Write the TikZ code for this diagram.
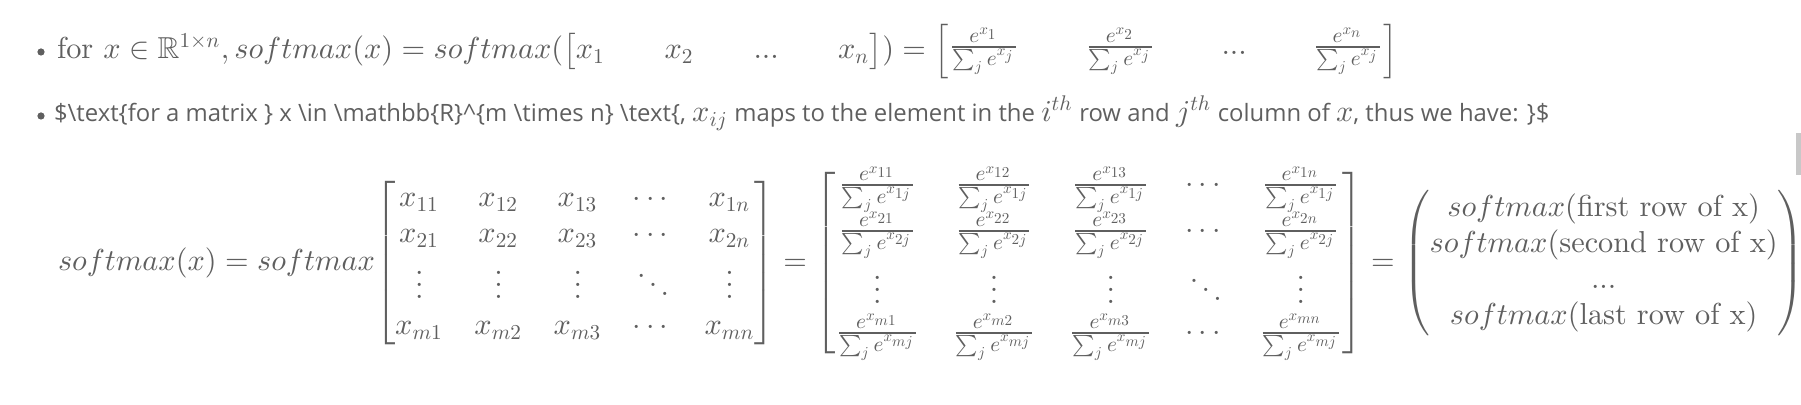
\documentclass[tikz,border=0pt]{standalone}
\usepackage{amsmath,amssymb}
\usepackage[no-math]{fontspec}
\newfontfamily\uisans{Open Sans}
\DeclareFontShape{OML}{cmm}{m}{it}{<->cmmi10}{}
\DeclareFontShape{OMS}{cmsy}{m}{n}{<->cmsy10}{}
\DeclareFontShape{OMX}{cmex}{m}{n}{<->cmex10}{}
\DeclareFontShape{OT1}{cmr}{m}{n}{<->cmr10}{}
\definecolor{ink}{RGB}{95,95,95}
\definecolor{barc}{RGB}{200,200,200}
\newcommand\km[1]{{\fontsize{10.1}{12}\selectfont$#1$}}
\newcommand\bs{\textbackslash}
\tikzset{
  txt/.style={inner sep=0pt, outer sep=0pt, text=ink, anchor=base west, font=\fontsize{10.1}{12}\selectfont},
  sans/.style={inner sep=0pt, outer sep=0pt, text=ink, anchor=base west, font=\uisans\fontsize{7.96}{10}\selectfont},
  bullet/.style={circle, fill=ink, inner sep=0pt, minimum size=2.4pt}
}
\begin{document}
\begin{tikzpicture}[x=0.33333pt,y=-0.33333pt]
\useasboundingbox (0,0) rectangle (1801,405);
% scrollbar
\fill[barc] (1796,133) rectangle (1801,175);
% line 1
\node[bullet] (b1) at (41,52) {};
\node[txt] (l1) at (57,59) {$\text{for } x \in \mathbb{R}^{1\times n}, softmax(x) = softmax({\arraycolsep=9.9pt\begin{bmatrix} x_1 & x_2 & ... & x_n \end{bmatrix}}) = {\arraycolsep=11pt\begin{bmatrix} \frac{e^{x_1}}{\sum_j e^{x_j}} & \frac{e^{x_2}}{\sum_j e^{x_j}} & ... & \frac{e^{x_n}}{\sum_j e^{x_j}} \end{bmatrix}}$};
% line 2
\node[bullet] (b2) at (41,116) {};
\node[sans] (l2) at (54,122) {\$\bs text\{for a matrix \} x \bs in \bs mathbb\{R\}\textasciicircum\{m \bs times n\} \bs text\{, \km{x_{ij}} maps to the element in the \km{i^{th}} row and \km{j^{th}} column of \km{x}, thus we have: \}\$};
% line 3
\node[txt] (l3) at (58,271) {$\displaystyle softmax(x) = softmax{\arraycolsep=5.2pt\begin{bmatrix}
x_{11} & x_{12} & x_{13} & \cdots & x_{1n}\\
x_{21} & x_{22} & x_{23} & \cdots & x_{2n}\\
\vdots & \vdots & \vdots & \ddots & \vdots\\
x_{m1} & x_{m2} & x_{m3} & \cdots & x_{mn}
\end{bmatrix}} = {\arraycolsep=5.5pt\begin{bmatrix}
\frac{e^{x_{11}}}{\sum_j e^{x_{1j}}} & \frac{e^{x_{12}}}{\sum_j e^{x_{1j}}} & \frac{e^{x_{13}}}{\sum_j e^{x_{1j}}} & \cdots & \frac{e^{x_{1n}}}{\sum_j e^{x_{1j}}}\\
\frac{e^{x_{21}}}{\sum_j e^{x_{2j}}} & \frac{e^{x_{22}}}{\sum_j e^{x_{2j}}} & \frac{e^{x_{23}}}{\sum_j e^{x_{2j}}} & \cdots & \frac{e^{x_{2n}}}{\sum_j e^{x_{2j}}}\\
\vdots & \vdots & \vdots & \ddots & \vdots\\
\frac{e^{x_{m1}}}{\sum_j e^{x_{mj}}} & \frac{e^{x_{m2}}}{\sum_j e^{x_{mj}}} & \frac{e^{x_{m3}}}{\sum_j e^{x_{mj}}} & \cdots & \frac{e^{x_{mn}}}{\sum_j e^{x_{mj}}}
\end{bmatrix}} = \begin{pmatrix}
softmax(\text{first row of x})\\
softmax(\text{second row of x})\\
...\\
softmax(\text{last row of x})
\end{pmatrix}$};
\end{tikzpicture}
\end{document}
